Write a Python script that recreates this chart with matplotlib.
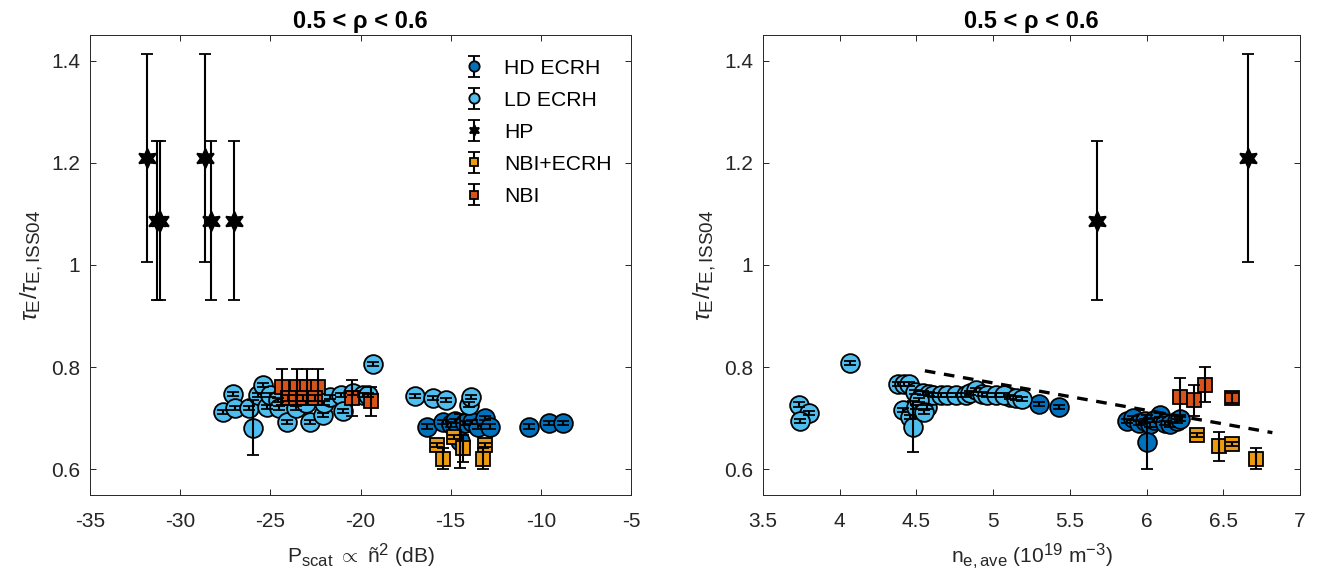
import matplotlib
matplotlib.use("Agg")
import matplotlib.pyplot as plt
import matplotlib._mathtext as _mt

_mt.SHRINK_FACTOR = 0.8  # larger sub/superscripts, closer to the reference

plt.rcParams['font.family'] = ['Liberation Sans', 'DejaVu Sans']
plt.rcParams['mathtext.fontset'] = 'custom'
plt.rcParams['mathtext.rm'] = 'Liberation Sans'
plt.rcParams['mathtext.it'] = 'Liberation Sans:italic'
plt.rcParams['mathtext.bf'] = 'Liberation Sans:bold'

# ---------------- data: left panel (P_scat) ----------------
hd_l_x = [-16.3, -15.41, -15.0, -14.74, -14.2, -13.8, -13.5, -13.08, -12.8, -14.47, -10.64, -9.53, -8.75]
hd_l_y = [0.684, 0.692, 0.688, 0.694, 0.690, 0.692, 0.684, 0.701, 0.684, 0.655, 0.684, 0.690, 0.690]
hd_l_e = [0.004] * 9 + [0.053] + [0.004] * 3

ld_l_x = [-27.6, -27.06, -26.95, -26.2, -25.95, -25.7, -25.4, -25.2, -25.0, -24.6, -24.5, -24.07,
          -23.6, -23.0, -22.8, -22.07, -22.0, -21.7, -21.1, -20.96, -20.4, -19.85, -19.6, -19.3,
          -16.96, -15.96, -15.24, -13.97, -13.85]
ld_l_y = [0.713, 0.748, 0.721, 0.721, 0.682, 0.746, 0.766, 0.723, 0.746, 0.735, 0.720, 0.692,
          0.720, 0.730, 0.692, 0.707, 0.730, 0.742, 0.746, 0.715, 0.750, 0.746, 0.746, 0.807,
          0.744, 0.740, 0.735, 0.727, 0.742]
ld_l_e = [0.004] * 4 + [0.053] + [0.004] * 24

hp_l_x = [-31.84, -31.28, -31.1, -28.6, -28.3, -27.0]
hp_l_y = [1.209, 1.087, 1.087, 1.209, 1.087, 1.087]
hp_l_e = [0.203, 0.155, 0.155, 0.203, 0.155, 0.155]

nbe_l_x = [-15.74, -15.41, -14.8, -14.3, -13.08, -13.19]
nbe_l_y = [0.647, 0.621, 0.664, 0.641, 0.647, 0.621]
nbe_l_e = [0.004, 0.021, 0.004, 0.027, 0.004, 0.021]

nbi_l_x = [-24.35, -23.5, -22.96, -22.35, -24.0, -23.6, -23.2, -22.5, -20.46, -19.4]
nbi_l_y = [0.762, 0.762, 0.762, 0.762, 0.739, 0.739, 0.739, 0.739, 0.740, 0.733]
nbi_l_e = [0.035, 0.035, 0.035, 0.035, 0.006, 0.006, 0.006, 0.006, 0.035, 0.028]

# ---------------- data: right panel (n_e,ave) ----------------
hd_r_x = [5.87, 5.91, 5.95, 5.99, 6.02, 6.05, 6.09, 6.12, 6.15, 6.20, 6.22, 6.00, 5.11, 5.30, 5.43]
hd_r_y = [0.694, 0.701, 0.690, 0.694, 0.688, 0.697, 0.707, 0.690, 0.688, 0.694, 0.698, 0.653, 0.742, 0.728, 0.722]
hd_r_e = [0.004] * 11 + [0.053] + [0.004] * 3

ld_r_x = [3.735, 3.80, 3.74, 4.07, 4.38, 4.42, 4.45, 4.41, 4.46, 4.48, 4.50, 4.57, 4.49, 4.54,
          4.58, 4.61, 4.66, 4.70, 4.76, 4.82, 4.85, 4.89, 4.93, 4.96, 5.02, 5.07, 5.15, 5.19, 4.52, 4.55]
ld_r_y = [0.727, 0.711, 0.694, 0.809, 0.768, 0.768, 0.768, 0.717, 0.703, 0.684, 0.723, 0.723, 0.752, 0.750,
          0.748, 0.746, 0.745, 0.746, 0.746, 0.746, 0.750, 0.756, 0.748, 0.746, 0.746, 0.745, 0.740, 0.737, 0.735, 0.712]
ld_r_e = [0.004] * 9 + [0.050] + [0.004] * 20

hp_r_x = [5.68, 6.66]
hp_r_y = [1.087, 1.209]
hp_r_e = [0.155, 0.203]

nbe_r_x = [6.327, 6.47, 6.56, 6.71]
nbe_r_y = [0.668, 0.645, 0.649, 0.621]
nbe_r_e = [0.004, 0.028, 0.004, 0.020]

nbi_r_x = [6.217, 6.31, 6.38, 6.555]
nbi_r_y = [0.742, 0.735, 0.766, 0.740]
nbi_r_e = [0.036, 0.030, 0.035, 0.010]

fit_x = [4.555, 6.82]
fit_y = [0.793, 0.672]

labels = ['HD ECRH', 'LD ECRH', 'HP', 'NBI+ECRH', 'NBI']
colors = ['#0072BD', '#4DBEEE', 'black', '#EC9A0E', '#D95319']
markers = ['o', 'o', (6, 1, 0), 's', 's']
msizes = [13.5, 13.5, 14, 10, 10]

yticks = [0.6, 0.8, 1.0, 1.2, 1.4]
yticklabels = ['0.6', '0.8', '1', '1.2', '1.4']
xticks_l = [-35, -30, -25, -20, -15, -10, -5]
xticks_r = [3.5, 4, 4.5, 5, 5.5, 6, 6.5, 7]
xticklabels_r = ['3.5', '4', '4.5', '5', '5.5', '6', '6.5', '7']

title_txt = '0.5 < ρ < 0.6'
ylabel_txt = r'$\tau_{\mathrm{E}}/\tau_{\mathrm{E,ISS04}}$'
xlabel_l = r'P$_{\mathrm{scat}}$ $\propto$ ñ$^{2}$ (dB)'
xlabel_r = r'n$_{\mathrm{e,ave}}$ (10$^{19}$ m$^{-3}$)'

W, H = 1327, 587
fig = plt.figure(figsize=(W / 100, H / 100), dpi=100)
axL = fig.add_axes([90 / W, 1 - 495 / H, (631 - 90) / W, (495 - 35) / H])
axR = fig.add_axes([763 / W, 1 - 495 / H, (1300 - 763) / W, (495 - 35) / H])

grey = '#262626'


def draw(ax, series):
    for (x, y, e), lab, c, m, ms in zip(series, labels, colors, markers, msizes):
        ax.errorbar(x, y, yerr=e, marker=m, linestyle='none', ms=ms,
                    mfc=c, mec='black', mew=1.3, ecolor='black', elinewidth=1.5,
                    capsize=4.0, capthick=1.5, barsabove=True, label=lab)


draw(axL, [(hd_l_x, hd_l_y, hd_l_e), (ld_l_x, ld_l_y, ld_l_e), (hp_l_x, hp_l_y, hp_l_e),
           (nbe_l_x, nbe_l_y, nbe_l_e), (nbi_l_x, nbi_l_y, nbi_l_e)])
draw(axR, [(hd_r_x, hd_r_y, hd_r_e), (ld_r_x, ld_r_y, ld_r_e), (hp_r_x, hp_r_y, hp_r_e),
           (nbe_r_x, nbe_r_y, nbe_r_e), (nbi_r_x, nbi_r_y, nbi_r_e)])
axR.plot(fit_x, fit_y, linestyle=(0, (3.2, 2.6)), color='black', lw=2.4, zorder=5)

for ax in (axL, axR):
    ax.set_ylim(0.55, 1.45)
    ax.set_yticks(yticks)
    ax.set_yticklabels(yticklabels)
    ax.tick_params(direction='in', top=True, right=True, length=4, width=0.7,
                   colors=grey, labelsize=15)
    ax.tick_params(axis='x', pad=12)
    ax.tick_params(axis='y', pad=7)
    for s in ax.spines.values():
        s.set_color(grey)
        s.set_linewidth(0.7)
    ax.set_title(title_txt, fontsize=17, fontweight='bold', pad=5)
    ax.set_ylabel(ylabel_txt, fontsize=17, color=grey, labelpad=4)

axL.set_xlim(-35, -5)
axL.set_xticks(xticks_l)
axL.set_xticklabels([str(v) for v in xticks_l])
axL.set_xlabel(xlabel_l, fontsize=15, color=grey, labelpad=8)

axR.set_xlim(3.5, 7)
axR.set_xticks(xticks_r)
axR.set_xticklabels(xticklabels_r)
axR.set_xlabel(xlabel_r, fontsize=15, color=grey, labelpad=8)

leg = axL.legend(loc='upper right', bbox_to_anchor=(1.0, 0.99), frameon=False,
                 fontsize=15.2, markerscale=0.55, handlelength=1.4, handletextpad=0.75,
                 labelspacing=0.62)

fig.savefig('out.png', dpi=100)
